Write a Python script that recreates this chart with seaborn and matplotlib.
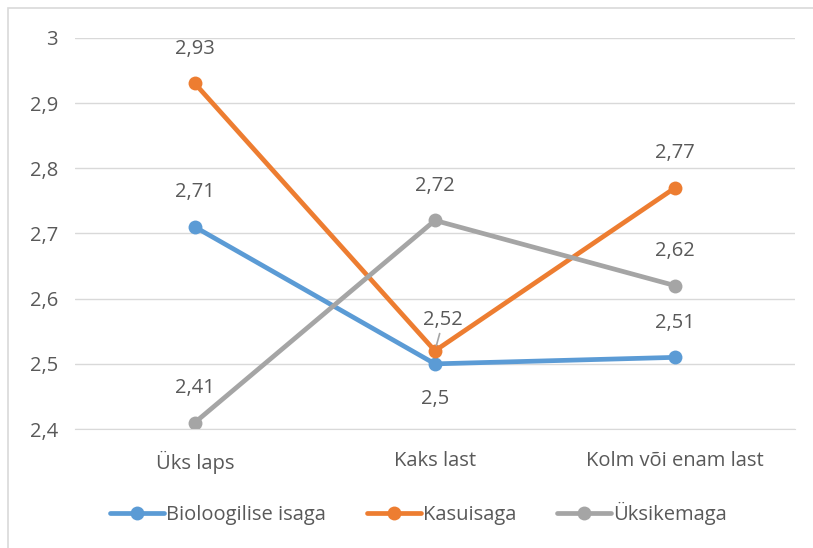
import matplotlib
matplotlib.use('Agg')
import matplotlib.pyplot as plt
import pandas as pd
import seaborn as sns
from matplotlib.patches import Rectangle

# data
categories = ['Üks laps', 'Kaks last', 'Kolm või enam last']
bio_isa = [2.71, 2.5, 2.51]
kasuisa = [2.93, 2.52, 2.77]
uksikema = [2.41, 2.72, 2.62]
series_names = ['Bioloogilise isaga', 'Kasuisaga', 'Üksikemaga']
y_ticks = [2.4, 2.5, 2.6, 2.7, 2.8, 2.9, 3.0]

colors = ['#5B9BD5', '#ED7D31', '#A5A5A5']

rows = []
for name, vals in zip(series_names, [bio_isa, kasuisa, uksikema]):
    for c, v in zip(categories, vals):
        rows.append({'kategooria': c, 'väärtus': v, 'rühm': name})
df = pd.DataFrame(rows)

sns.set_style('white')
plt.rcParams['font.family'] = ['Open Sans', 'DejaVu Sans']
txt = '#595959'
fs = 14.5

fig = plt.figure(figsize=(8.13, 5.48), dpi=100)
ax = fig.add_axes([0.092, 0.217, 0.886, 0.714])

sns.lineplot(data=df, x='kategooria', y='väärtus', hue='rühm', palette=colors,
             marker='o', markersize=10, markeredgewidth=0, linewidth=3.4,
             sort=False, legend=False, ax=ax)

ax.set_xlim(-0.5, 2.5)
ax.set_ylim(2.4, 3.0)
ax.set_yticks(y_ticks)
ax.set_yticklabels(['2,4', '2,5', '2,6', '2,7', '2,8', '2,9', '3'])
ax.yaxis.grid(True, color='#D9D9D9', linewidth=1)
ax.set_axisbelow(True)
for s in ['top', 'right', 'left']:
    ax.spines[s].set_visible(False)
ax.spines['bottom'].set_color('#D9D9D9')
ax.tick_params(axis='both', length=0, labelsize=fs, colors=txt)
ax.tick_params(axis='x', pad=16)
ax.tick_params(axis='y', pad=12)
ax.set_xlabel('')
ax.set_ylabel('')


def fmt(v):
    return ('%g' % v).replace('.', ',')


# data labels
for name, vals in zip(series_names, [bio_isa, kasuisa, uksikema]):
    for i, v in enumerate(vals):
        dy = 25
        if name == 'Bioloogilise isaga' and i == 1:
            dy = -25
        if name == 'Kasuisaga' and i == 1:
            # small leader line, like the reference
            ax.annotate(fmt(v), (i, v), xytext=(6, 22), textcoords='offset points',
                        ha='center', va='center', fontsize=fs, color=txt,
                        arrowprops=dict(arrowstyle='-', color='#A5A5A5', lw=1.2,
                                        shrinkA=0, shrinkB=4))
            continue
        ax.annotate(fmt(v), (i, v), xytext=(0, dy), textcoords='offset points',
                    ha='center', va='center', fontsize=fs, color=txt)

ax.legend(handles=ax.lines[:3], labels=series_names, loc='center',
          bbox_to_anchor=(0.477, -0.215), ncol=3, frameon=False, fontsize=fs,
          labelcolor=txt, handlelength=2.7, handletextpad=0.1, columnspacing=2.0)

# outer chart border (cropped in the reference)
fig.patches.append(Rectangle((8 / 813, -0.05), 1.2, 1.05 - 8 / 548,
                             transform=fig.transFigure, fill=False,
                             edgecolor='#D9D9D9', linewidth=1.2, clip_on=False))

fig.savefig('out.png', dpi=100, facecolor='white')
